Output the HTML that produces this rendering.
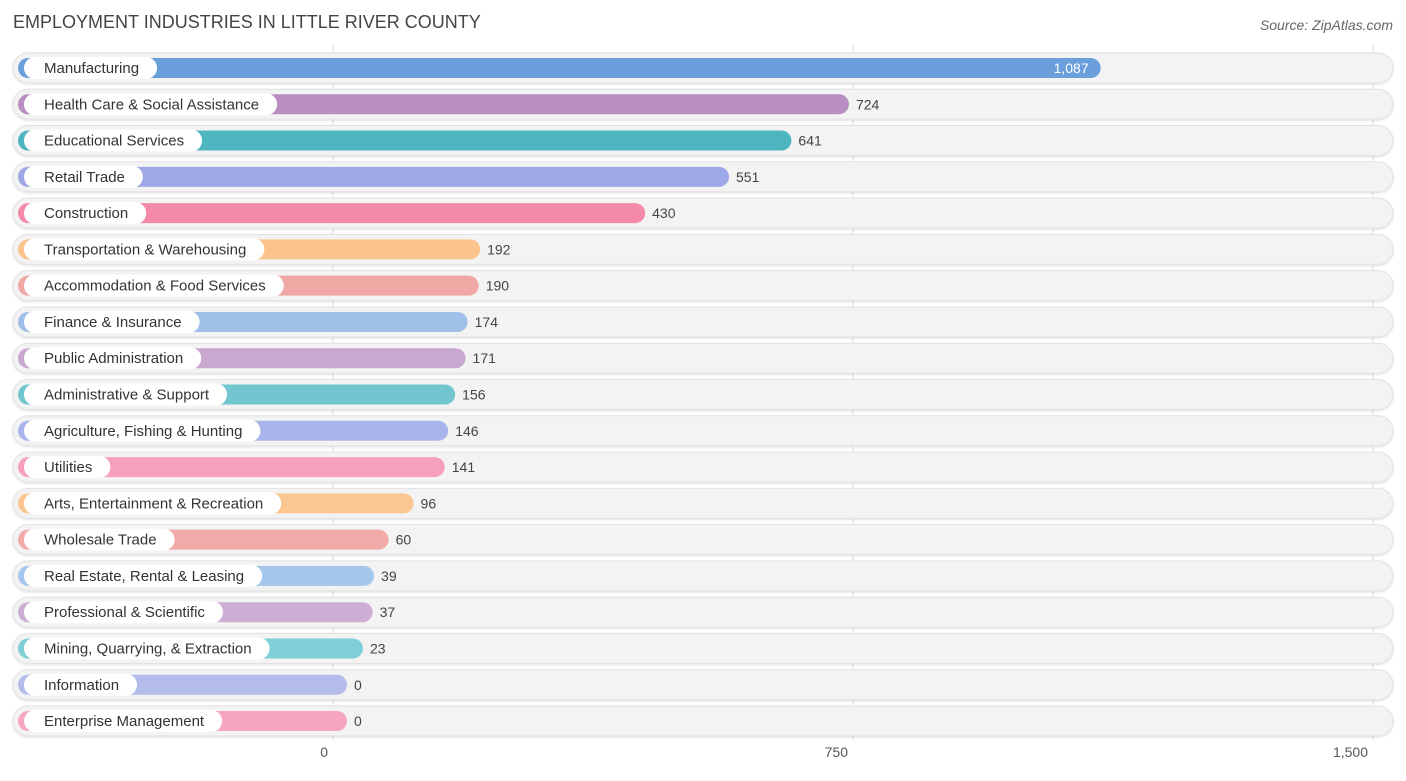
<!DOCTYPE html>
<html><head><meta charset="utf-8"><style>
body{margin:0;background:#fff;font-family:"Liberation Sans",sans-serif;}
svg text{font-family:"Liberation Sans",sans-serif;}
</style></head><body>
<svg id="chart" width="1406" height="776" xmlns="http://www.w3.org/2000/svg">
<defs><filter id="sh" x="-5%" y="-30%" width="110%" height="160%"><feDropShadow dx="0" dy="1" stdDeviation="1" flood-color="#000" flood-opacity="0.12"/></filter></defs>
<text x="13" y="28" font-size="18" fill="#444">EMPLOYMENT INDUSTRIES IN LITTLE RIVER COUNTY</text>
<text x="1393" y="30" font-size="14" fill="#666" font-style="italic" text-anchor="end">Source: ZipAtlas.com</text>
<g id="grid"></g><g id="rows"></g><g id="ticks"></g>
</svg>
<script>
const categories=["Manufacturing","Health Care & Social Assistance","Educational Services","Retail Trade","Construction","Transportation & Warehousing","Accommodation & Food Services","Finance & Insurance","Public Administration","Administrative & Support","Agriculture, Fishing & Hunting","Utilities","Arts, Entertainment & Recreation","Wholesale Trade","Real Estate, Rental & Leasing","Professional & Scientific","Mining, Quarrying, & Extraction","Information","Enterprise Management"];
const values=[1087,724,641,551,430,192,190,174,171,156,146,141,96,60,39,37,23,0,0];
const tickValues=[0,750,1500];
const tickLabels=["0","750","1,500"];
const colors=["#6a9fdc","#b88fc0","#4db6c0","#9fa8e6","#f48aa8","#fbc48c","#f0a8a4","#9fc0e8","#c9a8d0","#72c6d0","#aab4ec","#f6a0bc","#fbc690","#f2aaa8","#a6c6ec","#cdaed4","#7ecfd6","#b4bcec","#f7a6c2"];
const NS="http://www.w3.org/2000/svg";
const x0=333,pxPer=520/750;
const xScale=v=>x0+v*pxPer;
const yScale=i=>68+i*36.28;
function mk(tag,attrs,parent){const e=document.createElementNS(NS,tag);for(const k in attrs)e.setAttribute(k,attrs[k]);parent.appendChild(e);return e;}
const grid=document.getElementById('grid'),rows=document.getElementById('rows'),ticks=document.getElementById('ticks');
categories.forEach((c,i)=>{
  const y=yScale(i);
  const bg=mk('rect',{x:13,y:y-15,width:1380,height:30,rx:15,fill:"#f3f3f3",stroke:"#e2e2e2","stroke-width":1,filter:"url(#sh)"},rows);
  
  
});
tickValues.forEach((t,i)=>{
  const gx=xScale(t);
  const l=mk('line',{x1:gx,x2:gx,y1:45,y2:740,stroke:"#ddd","stroke-width":1},grid);
  
  
  const tx=mk('text',{x:gx-5,y:757,"font-size":14,fill:"#555","text-anchor":"end"},ticks);
  tx.textContent=tickLabels[i];
  
  
});
const meas=mk('text',{"font-size":15,x:-1000,y:-1000},rows);
categories.forEach((c,i)=>{
  const y=yScale(i),v=values[i];
  const end=xScale(v)+14;
  const bar=mk('rect',{x:18,y:y-10,width:end-18,height:20,rx:10,fill:colors[i]},rows);
  
  
  meas.textContent=c;const w=meas.getComputedTextLength();
  const pill=mk('rect',{x:24,y:y-11,width:w+38,height:22,rx:11,fill:"#fff"},rows);
  
  
  const lt=mk('text',{x:44,y:y+5,"font-size":15,fill:"#333"},rows);
  lt.textContent=c;
  
  
  const inside=v>900;
  const vt=mk('text',{x:inside?end-12:end+7,y:y+5,"font-size":14,fill:inside?"#fff":"#444","text-anchor":inside?"end":"start"},rows);
  vt.textContent=v.toLocaleString('en-US');
  
  
});
meas.remove();
</script>
</body></html>
